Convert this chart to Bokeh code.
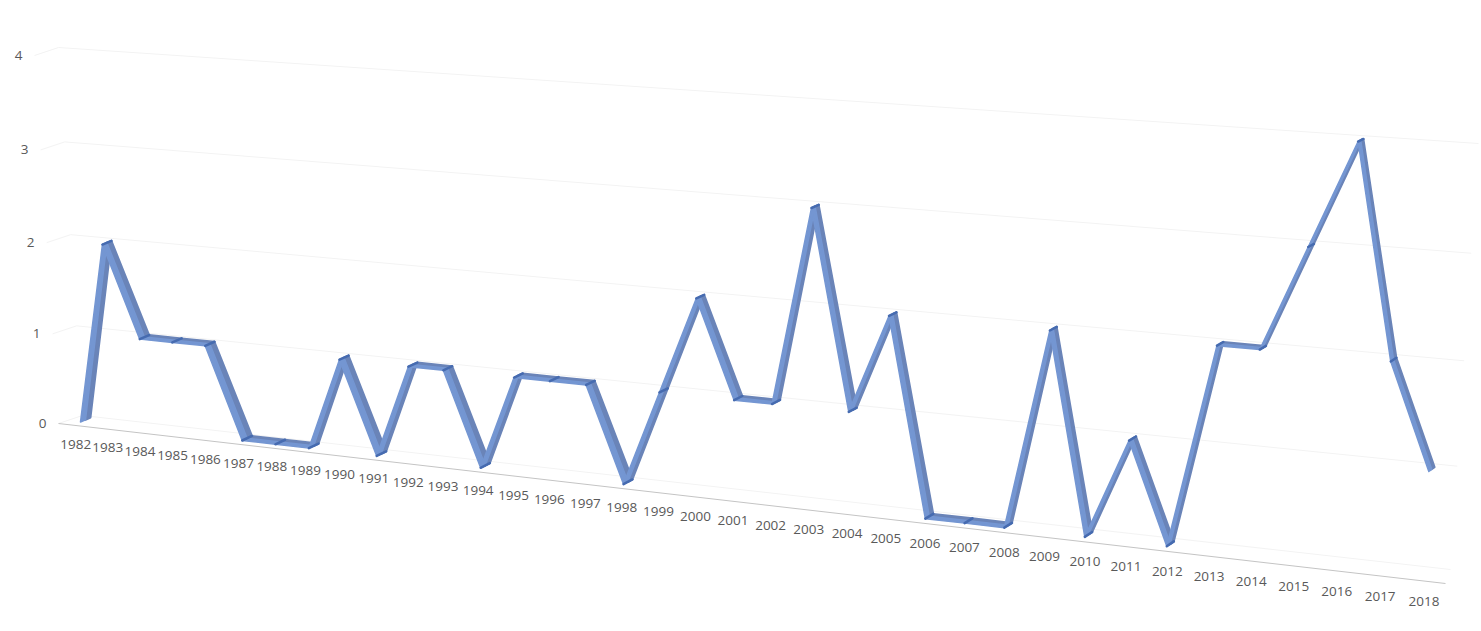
import numpy as np
from bokeh.plotting import figure
from bokeh.core.properties import value
from bokeh.embed import file_html
from bokeh.resources import INLINE

years = [str(y) for y in range(1982, 2019)]
counts = [0, 2, 1, 1, 1, 0, 0, 0, 1, 0, 1, 1, 0, 1, 1, 1, 0, 1, 2, 1, 1, 3, 1, 2, 0, 0, 0, 2, 0, 1, 0, 2, 2, 3, 4, 2, 1]
value_ticks = [0, 1, 2, 3, 4]


def homography(corners):
    """corners: screen points of (u0,v0), (u1,v0), (u1,v1), (u0,v1) of a unit square."""
    src = [(0, 0), (1, 0), (1, 1), (0, 1)]
    A, b = [], []
    for (s, t), (x, y) in zip(src, corners):
        A.append([s, t, 1, 0, 0, 0, -s * x, -t * x]); b.append(x)
        A.append([0, 0, 0, s, t, 1, -s * y, -t * y]); b.append(y)
    h = np.linalg.solve(np.array(A, float), np.array(b, float))
    H = np.append(h, 1).reshape(3, 3)

    def project(u, v):
        u, v = np.asarray(u, float) / 36.0, np.asarray(v, float) / 4.0
        w = H[2, 0] * u + H[2, 1] * v + 1
        return (H[0, 0] * u + H[0, 1] * v + H[0, 2]) / w, (H[1, 0] * u + H[1, 1] * v + H[1, 2]) / w
    return project


front = homography([(80, 421.5), (1422, 575), (1448, 147), (59, 55)])
back = homography([(90, 417), (1428, 570), (1453, 144.5), (67, 52)])
wall = homography([(82, 415), (1450, 569), (1478, 143), (58, 47)])

p = figure(width=1480, height=630, x_range=(0, 1480), y_range=(630, 0),
           output_backend="svg", toolbar_location=None, min_border=0)
p.axis.visible = False
p.grid.visible = False
p.outline_line_color = None
p.background_fill_color = "white"

# back wall gridlines and the short side-wall returns
vt = np.array(value_ticks, float)
lx0, ly0 = wall(np.zeros(5), vt)
lx1, ly1 = wall(np.full(5, 36.0), vt)
p.segment(lx0, ly0, lx1, ly1, line_color="#f3f3f3", line_width=1)
p.segment(lx0 - 24, ly0 + 8, lx0, ly0, line_color="#f3f3f3", line_width=1)

# floor edge (category axis line)
p.line([58, 1445], [423, 583], line_color="#c4c4c4", line_width=1)

# value tick labels
p.text(lx0 - 40, ly0 + 8, text=[str(t) for t in value_ticks], text_align="center",
       text_baseline="middle", text_color="#595959", text_font=value("Open Sans"), text_font_size="13.5px")

# category labels
u = np.arange(len(years), dtype=float)
cx, cy = front(u, np.full(len(years), -0.25))
cx = cx - 6 * (1 - u / 36) + 3 * u / 36
p.text(cx, cy, text=years, text_align="center", text_baseline="middle",
       text_color="#595959", text_font=value("Open Sans"), text_font_size="13.5px")

# ribbon
v = np.array(counts, float)
fx, fy = front(u, v)
bx, by = back(u, v)
mx, my = (fx + bx) / 2, (fy + by) / 2

xs_f, ys_f, xs_b, ys_b = [], [], [], []
for i in range(len(u) - 1):
    xs_f.append([fx[i], fx[i + 1], mx[i + 1], mx[i]])
    ys_f.append([fy[i], fy[i + 1], my[i + 1], my[i]])
    xs_b.append([mx[i], mx[i + 1], bx[i + 1], bx[i]])
    ys_b.append([my[i], my[i + 1], by[i + 1], by[i]])

p.patches(xs_b, ys_b, fill_color="#6a84b8", line_color="#6a84b8", line_width=2, line_join="round")
p.patches(xs_f, ys_f, fill_color="#7496d2", line_color="#7496d2", line_width=1.5, line_join="round")

# darker joints at interior points
p.segment(fx[1:-1], fy[1:-1], bx[1:-1], by[1:-1], line_color="#466bb0", line_width=2.5, line_cap="round")

open("out.html", "w").write(file_html(p, INLINE))
